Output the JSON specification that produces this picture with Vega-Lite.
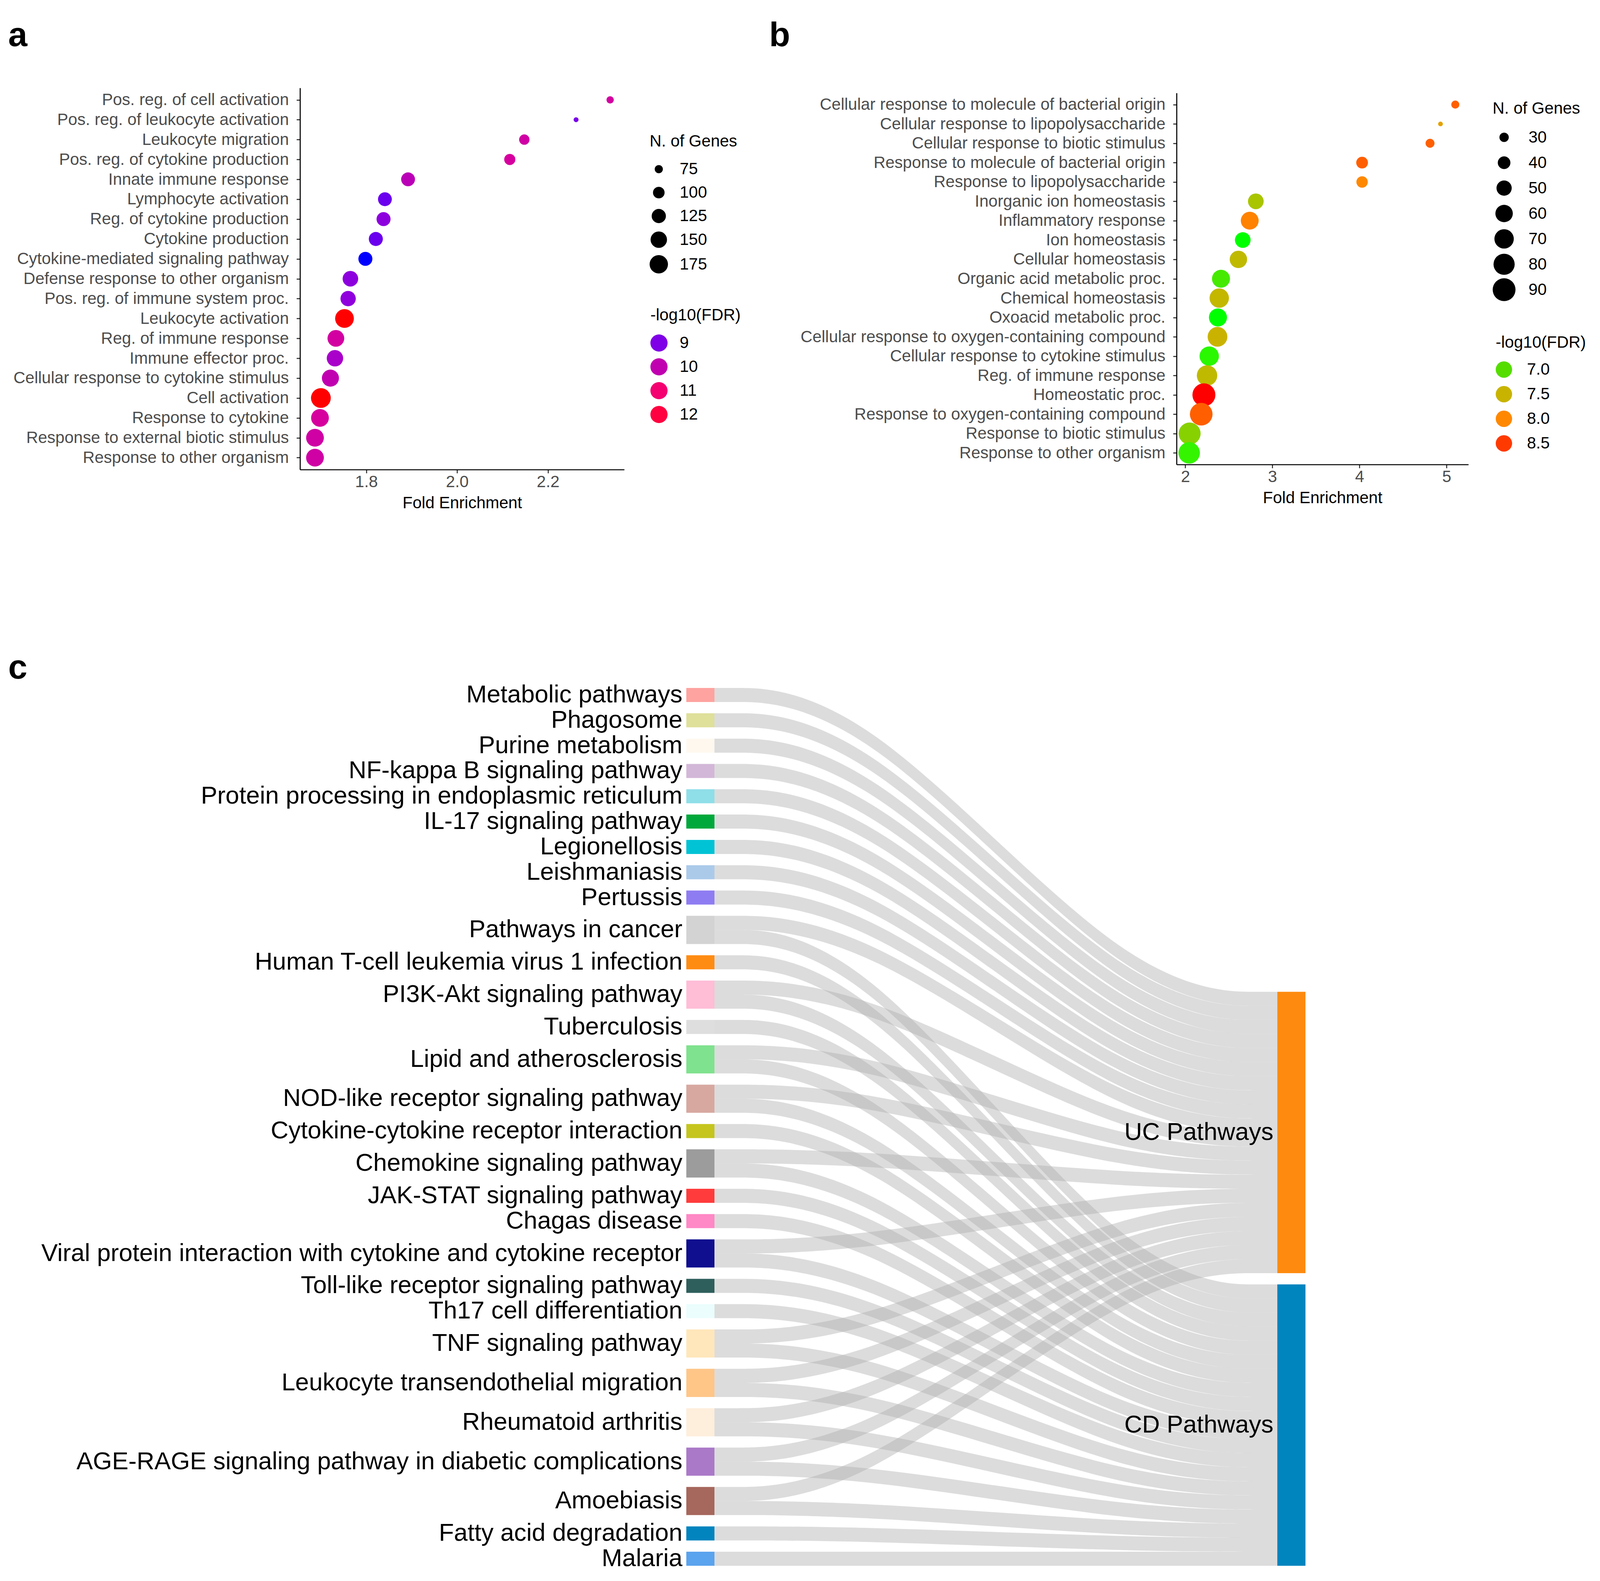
{
"$schema":"https://vega.github.io/schema/vega-lite/v6.json",
"autosize":{"type":"none"},
"padding":{"left":768,"top":225,"right":3338,"bottom":3822},
"background":"white",
"config":{
 "font":"Liberation Sans",
 "view":{"stroke":null},
 "axis":{"grid":false,"domainColor":"#000000","domainWidth":2.7,"tickColor":"#333333","tickWidth":2.7,"tickSize":9,"labelFontSize":42,"labelColor":"#4d4d4d","labelFont":"Liberation Sans","titleFont":"Liberation Sans","titleFontSize":42,"titleFontWeight":"normal","titleColor":"#000000","labelLimit":3000},
 "axisY":{"labelPadding":20},
 "axisX":{"labelPadding":2,"titlePadding":13},
 "legend":{"titleFont":"Liberation Sans","labelFont":"Liberation Sans","titleFontSize":42,"titleFontWeight":"normal","titleColor":"#000000","titleLimit":2000,"labelLimit":2000,"labelFontSize":42,"labelColor":"#000000","padding":0,"symbolOpacity":1,"symbolStrokeWidth":0},
 "title":{"font":"Liberation Sans","fontSize":88,"fontWeight":"bold","color":"#000000","anchor":"start","frame":"group","baseline":"alphabetic"}
},
"datasets":{
 "ga":[
  {"t":"Pos. reg. of cell activation","fe":2.337,"g":70,"f":10.25},
  {"t":"Pos. reg. of leukocyte activation","fe":2.262,"g":59,"f":8.93},
  {"t":"Leukocyte migration","fe":2.148,"g":90,"f":10.2},
  {"t":"Pos. reg. of cytokine production","fe":2.116,"g":96,"f":10.3},
  {"t":"Innate immune response","fe":1.892,"g":121,"f":9.85},
  {"t":"Lymphocyte activation","fe":1.841,"g":121,"f":8.8},
  {"t":"Reg. of cytokine production","fe":1.838,"g":123,"f":9.14},
  {"t":"Cytokine production","fe":1.821,"g":123,"f":8.8},
  {"t":"Cytokine-mediated signaling pathway","fe":1.798,"g":123,"f":8.4},
  {"t":"Defense response to other organism","fe":1.765,"g":140,"f":9.14},
  {"t":"Pos. reg. of immune system proc.","fe":1.760,"g":137,"f":9.16},
  {"t":"Leukocyte activation","fe":1.752,"g":180,"f":12.5},
  {"t":"Reg. of immune response","fe":1.733,"g":154,"f":10.25},
  {"t":"Immune effector proc.","fe":1.731,"g":150,"f":9.5},
  {"t":"Cellular response to cytokine stimulus","fe":1.721,"g":158,"f":10.0},
  {"t":"Cell activation","fe":1.700,"g":195,"f":12.5},
  {"t":"Response to cytokine","fe":1.698,"g":167,"f":10.3},
  {"t":"Response to external biotic stimulus","fe":1.687,"g":167,"f":10.2},
  {"t":"Response to other organism","fe":1.687,"g":167,"f":10.2}
 ],
 "gb":[
  {"t":"Cellular response to molecule of bacterial origin","fe":5.10,"g":27,"f":8.3},
  {"t":"Cellular response to lipopolysaccharide","fe":4.93,"g":21,"f":7.75},
  {"t":"Cellular response to biotic stimulus","fe":4.81,"g":29,"f":8.3},
  {"t":"Response to molecule of bacterial origin","fe":4.03,"g":37,"f":8.3},
  {"t":"Response to lipopolysaccharide","fe":4.03,"g":36,"f":8.0},
  {"t":"Inorganic ion homeostasis","fe":2.81,"g":52,"f":7.3},
  {"t":"Inflammatory response","fe":2.74,"g":62,"f":8.05},
  {"t":"Ion homeostasis","fe":2.66,"g":52,"f":6.7},
  {"t":"Cellular homeostasis","fe":2.61,"g":60,"f":7.43},
  {"t":"Organic acid metabolic proc.","fe":2.41,"g":63,"f":6.88},
  {"t":"Chemical homeostasis","fe":2.39,"g":70,"f":7.47},
  {"t":"Oxoacid metabolic proc.","fe":2.375,"g":63,"f":6.7},
  {"t":"Cellular response to oxygen-containing compound","fe":2.37,"g":72,"f":7.52},
  {"t":"Cellular response to cytokine stimulus","fe":2.275,"g":70,"f":6.76},
  {"t":"Reg. of immune response","fe":2.25,"g":76,"f":7.43},
  {"t":"Homeostatic proc.","fe":2.214,"g":91,"f":8.7},
  {"t":"Response to oxygen-containing compound","fe":2.183,"g":89,"f":8.3},
  {"t":"Response to biotic stimulus","fe":2.05,"g":85,"f":7.15},
  {"t":"Response to other organism","fe":2.045,"g":82,"f":6.8}
 ],
 "nodes":[
  {"n":"Metabolic pathways","x":-0.05,"x2":0,"y":0,"y2":1,"m":0.5},
  {"n":"Phagosome","x":-0.05,"x2":0,"y":1.8,"y2":2.8,"m":2.3},
  {"n":"Purine metabolism","x":-0.05,"x2":0,"y":3.6,"y2":4.6,"m":4.1},
  {"n":"NF-kappa B signaling pathway","x":-0.05,"x2":0,"y":5.4,"y2":6.4,"m":5.9},
  {"n":"Protein processing in endoplasmic reticulum","x":-0.05,"x2":0,"y":7.2,"y2":8.2,"m":7.7},
  {"n":"IL-17 signaling pathway","x":-0.05,"x2":0,"y":9,"y2":10,"m":9.5},
  {"n":"Legionellosis","x":-0.05,"x2":0,"y":10.8,"y2":11.8,"m":11.3},
  {"n":"Leishmaniasis","x":-0.05,"x2":0,"y":12.6,"y2":13.6,"m":13.1},
  {"n":"Pertussis","x":-0.05,"x2":0,"y":14.4,"y2":15.4,"m":14.9},
  {"n":"Pathways in cancer","x":-0.05,"x2":0,"y":16.2,"y2":18.2,"m":17.2},
  {"n":"Human T-cell leukemia virus 1 infection","x":-0.05,"x2":0,"y":19,"y2":20,"m":19.5},
  {"n":"PI3K-Akt signaling pathway","x":-0.05,"x2":0,"y":20.8,"y2":22.8,"m":21.8},
  {"n":"Tuberculosis","x":-0.05,"x2":0,"y":23.6,"y2":24.6,"m":24.1},
  {"n":"Lipid and atherosclerosis","x":-0.05,"x2":0,"y":25.4,"y2":27.4,"m":26.4},
  {"n":"NOD-like receptor signaling pathway","x":-0.05,"x2":0,"y":28.2,"y2":30.2,"m":29.2},
  {"n":"Cytokine-cytokine receptor interaction","x":-0.05,"x2":0,"y":31,"y2":32,"m":31.5},
  {"n":"Chemokine signaling pathway","x":-0.05,"x2":0,"y":32.8,"y2":34.8,"m":33.8},
  {"n":"JAK-STAT signaling pathway","x":-0.05,"x2":0,"y":35.6,"y2":36.6,"m":36.1},
  {"n":"Chagas disease","x":-0.05,"x2":0,"y":37.4,"y2":38.4,"m":37.9},
  {"n":"Viral protein interaction with cytokine and cytokine receptor","x":-0.05,"x2":0,"y":39.2,"y2":41.2,"m":40.2},
  {"n":"Toll-like receptor signaling pathway","x":-0.05,"x2":0,"y":42,"y2":43,"m":42.5},
  {"n":"Th17 cell differentiation","x":-0.05,"x2":0,"y":43.8,"y2":44.8,"m":44.3},
  {"n":"TNF signaling pathway","x":-0.05,"x2":0,"y":45.6,"y2":47.6,"m":46.6},
  {"n":"Leukocyte transendothelial migration","x":-0.05,"x2":0,"y":48.4,"y2":50.4,"m":49.4},
  {"n":"Rheumatoid arthritis","x":-0.05,"x2":0,"y":51.2,"y2":53.2,"m":52.2},
  {"n":"AGE-RAGE signaling pathway in diabetic complications","x":-0.05,"x2":0,"y":54,"y2":56,"m":55},
  {"n":"Amoebiasis","x":-0.05,"x2":0,"y":56.8,"y2":58.8,"m":57.8},
  {"n":"Fatty acid degradation","x":-0.05,"x2":0,"y":59.6,"y2":60.6,"m":60.1},
  {"n":"Malaria","x":-0.05,"x2":0,"y":61.4,"y2":62.4,"m":61.9},
  {"n":"UC Pathways","x":1,"x2":1.05,"y":21.6,"y2":41.6,"m":31.6},
  {"n":"CD Pathways","x":1,"x2":1.05,"y":42.4,"y2":62.4,"m":52.4}
 ],
 "links":[
  {"k":"Metabolic>UC","x":0,"y":0,"y2":1},{"k":"Metabolic>UC","x":0.25,"y":0,"y2":1},{"k":"Metabolic>UC","x":0.75,"y":21.6,"y2":22.6},{"k":"Metabolic>UC","x":1,"y":21.6,"y2":22.6},
  {"k":"Phagosome>UC","x":0,"y":1.8,"y2":2.8},{"k":"Phagosome>UC","x":0.25,"y":1.8,"y2":2.8},{"k":"Phagosome>UC","x":0.75,"y":22.6,"y2":23.6},{"k":"Phagosome>UC","x":1,"y":22.6,"y2":23.6},
  {"k":"Purine>UC","x":0,"y":3.6,"y2":4.6},{"k":"Purine>UC","x":0.25,"y":3.6,"y2":4.6},{"k":"Purine>UC","x":0.75,"y":23.6,"y2":24.6},{"k":"Purine>UC","x":1,"y":23.6,"y2":24.6},
  {"k":"NFkB>UC","x":0,"y":5.4,"y2":6.4},{"k":"NFkB>UC","x":0.25,"y":5.4,"y2":6.4},{"k":"NFkB>UC","x":0.75,"y":24.6,"y2":25.6},{"k":"NFkB>UC","x":1,"y":24.6,"y2":25.6},
  {"k":"Protein>UC","x":0,"y":7.2,"y2":8.2},{"k":"Protein>UC","x":0.25,"y":7.2,"y2":8.2},{"k":"Protein>UC","x":0.75,"y":25.6,"y2":26.6},{"k":"Protein>UC","x":1,"y":25.6,"y2":26.6},
  {"k":"IL17>UC","x":0,"y":9,"y2":10},{"k":"IL17>UC","x":0.25,"y":9,"y2":10},{"k":"IL17>UC","x":0.75,"y":26.6,"y2":27.6},{"k":"IL17>UC","x":1,"y":26.6,"y2":27.6},
  {"k":"Legionellosis>UC","x":0,"y":10.8,"y2":11.8},{"k":"Legionellosis>UC","x":0.25,"y":10.8,"y2":11.8},{"k":"Legionellosis>UC","x":0.75,"y":27.6,"y2":28.6},{"k":"Legionellosis>UC","x":1,"y":27.6,"y2":28.6},
  {"k":"Leishmaniasis>UC","x":0,"y":12.6,"y2":13.6},{"k":"Leishmaniasis>UC","x":0.25,"y":12.6,"y2":13.6},{"k":"Leishmaniasis>UC","x":0.75,"y":28.6,"y2":29.6},{"k":"Leishmaniasis>UC","x":1,"y":28.6,"y2":29.6},
  {"k":"Pertussis>UC","x":0,"y":14.4,"y2":15.4},{"k":"Pertussis>UC","x":0.25,"y":14.4,"y2":15.4},{"k":"Pertussis>UC","x":0.75,"y":29.6,"y2":30.6},{"k":"Pertussis>UC","x":1,"y":29.6,"y2":30.6},
  {"k":"Cancer>UC","x":0,"y":16.2,"y2":17.2},{"k":"Cancer>UC","x":0.25,"y":16.2,"y2":17.2},{"k":"Cancer>UC","x":0.75,"y":30.6,"y2":31.6},{"k":"Cancer>UC","x":1,"y":30.6,"y2":31.6},
  {"k":"PI3K>UC","x":0,"y":20.8,"y2":21.8},{"k":"PI3K>UC","x":0.25,"y":20.8,"y2":21.8},{"k":"PI3K>UC","x":0.75,"y":31.6,"y2":32.6},{"k":"PI3K>UC","x":1,"y":31.6,"y2":32.6},
  {"k":"Lipid>UC","x":0,"y":25.4,"y2":26.4},{"k":"Lipid>UC","x":0.25,"y":25.4,"y2":26.4},{"k":"Lipid>UC","x":0.75,"y":32.6,"y2":33.6},{"k":"Lipid>UC","x":1,"y":32.6,"y2":33.6},
  {"k":"NOD>UC","x":0,"y":28.2,"y2":29.2},{"k":"NOD>UC","x":0.25,"y":28.2,"y2":29.2},{"k":"NOD>UC","x":0.75,"y":33.6,"y2":34.6},{"k":"NOD>UC","x":1,"y":33.6,"y2":34.6},
  {"k":"Chemokine>UC","x":0,"y":32.8,"y2":33.8},{"k":"Chemokine>UC","x":0.25,"y":32.8,"y2":33.8},{"k":"Chemokine>UC","x":0.75,"y":34.6,"y2":35.6},{"k":"Chemokine>UC","x":1,"y":34.6,"y2":35.6},
  {"k":"Viral>UC","x":0,"y":39.2,"y2":40.2},{"k":"Viral>UC","x":0.25,"y":39.2,"y2":40.2},{"k":"Viral>UC","x":0.75,"y":35.6,"y2":36.6},{"k":"Viral>UC","x":1,"y":35.6,"y2":36.6},
  {"k":"TNF>UC","x":0,"y":45.6,"y2":46.6},{"k":"TNF>UC","x":0.25,"y":45.6,"y2":46.6},{"k":"TNF>UC","x":0.75,"y":36.6,"y2":37.6},{"k":"TNF>UC","x":1,"y":36.6,"y2":37.6},
  {"k":"LeukTEM>UC","x":0,"y":48.4,"y2":49.4},{"k":"LeukTEM>UC","x":0.25,"y":48.4,"y2":49.4},{"k":"LeukTEM>UC","x":0.75,"y":37.6,"y2":38.6},{"k":"LeukTEM>UC","x":1,"y":37.6,"y2":38.6},
  {"k":"Rheumatoid>UC","x":0,"y":51.2,"y2":52.2},{"k":"Rheumatoid>UC","x":0.25,"y":51.2,"y2":52.2},{"k":"Rheumatoid>UC","x":0.75,"y":38.6,"y2":39.6},{"k":"Rheumatoid>UC","x":1,"y":38.6,"y2":39.6},
  {"k":"AGE>UC","x":0,"y":54,"y2":55},{"k":"AGE>UC","x":0.25,"y":54,"y2":55},{"k":"AGE>UC","x":0.75,"y":39.6,"y2":40.6},{"k":"AGE>UC","x":1,"y":39.6,"y2":40.6},
  {"k":"Amoebiasis>UC","x":0,"y":56.8,"y2":57.8},{"k":"Amoebiasis>UC","x":0.25,"y":56.8,"y2":57.8},{"k":"Amoebiasis>UC","x":0.75,"y":40.6,"y2":41.6},{"k":"Amoebiasis>UC","x":1,"y":40.6,"y2":41.6},
  {"k":"Cancer>CD","x":0,"y":17.2,"y2":18.2},{"k":"Cancer>CD","x":0.25,"y":17.2,"y2":18.2},{"k":"Cancer>CD","x":0.75,"y":42.4,"y2":43.4},{"k":"Cancer>CD","x":1,"y":42.4,"y2":43.4},
  {"k":"HTLV>CD","x":0,"y":19,"y2":20},{"k":"HTLV>CD","x":0.25,"y":19,"y2":20},{"k":"HTLV>CD","x":0.75,"y":43.4,"y2":44.4},{"k":"HTLV>CD","x":1,"y":43.4,"y2":44.4},
  {"k":"PI3K>CD","x":0,"y":21.8,"y2":22.8},{"k":"PI3K>CD","x":0.25,"y":21.8,"y2":22.8},{"k":"PI3K>CD","x":0.75,"y":44.4,"y2":45.4},{"k":"PI3K>CD","x":1,"y":44.4,"y2":45.4},
  {"k":"Tuberculosis>CD","x":0,"y":23.6,"y2":24.6},{"k":"Tuberculosis>CD","x":0.25,"y":23.6,"y2":24.6},{"k":"Tuberculosis>CD","x":0.75,"y":45.4,"y2":46.4},{"k":"Tuberculosis>CD","x":1,"y":45.4,"y2":46.4},
  {"k":"Lipid>CD","x":0,"y":26.4,"y2":27.4},{"k":"Lipid>CD","x":0.25,"y":26.4,"y2":27.4},{"k":"Lipid>CD","x":0.75,"y":46.4,"y2":47.4},{"k":"Lipid>CD","x":1,"y":46.4,"y2":47.4},
  {"k":"NOD>CD","x":0,"y":29.2,"y2":30.2},{"k":"NOD>CD","x":0.25,"y":29.2,"y2":30.2},{"k":"NOD>CD","x":0.75,"y":47.4,"y2":48.4},{"k":"NOD>CD","x":1,"y":47.4,"y2":48.4},
  {"k":"CytCyt>CD","x":0,"y":31,"y2":32},{"k":"CytCyt>CD","x":0.25,"y":31,"y2":32},{"k":"CytCyt>CD","x":0.75,"y":48.4,"y2":49.4},{"k":"CytCyt>CD","x":1,"y":48.4,"y2":49.4},
  {"k":"Chemokine>CD","x":0,"y":33.8,"y2":34.8},{"k":"Chemokine>CD","x":0.25,"y":33.8,"y2":34.8},{"k":"Chemokine>CD","x":0.75,"y":49.4,"y2":50.4},{"k":"Chemokine>CD","x":1,"y":49.4,"y2":50.4},
  {"k":"JAK>CD","x":0,"y":35.6,"y2":36.6},{"k":"JAK>CD","x":0.25,"y":35.6,"y2":36.6},{"k":"JAK>CD","x":0.75,"y":50.4,"y2":51.4},{"k":"JAK>CD","x":1,"y":50.4,"y2":51.4},
  {"k":"Chagas>CD","x":0,"y":37.4,"y2":38.4},{"k":"Chagas>CD","x":0.25,"y":37.4,"y2":38.4},{"k":"Chagas>CD","x":0.75,"y":51.4,"y2":52.4},{"k":"Chagas>CD","x":1,"y":51.4,"y2":52.4},
  {"k":"Viral>CD","x":0,"y":40.2,"y2":41.2},{"k":"Viral>CD","x":0.25,"y":40.2,"y2":41.2},{"k":"Viral>CD","x":0.75,"y":52.4,"y2":53.4},{"k":"Viral>CD","x":1,"y":52.4,"y2":53.4},
  {"k":"Toll>CD","x":0,"y":42,"y2":43},{"k":"Toll>CD","x":0.25,"y":42,"y2":43},{"k":"Toll>CD","x":0.75,"y":53.4,"y2":54.4},{"k":"Toll>CD","x":1,"y":53.4,"y2":54.4},
  {"k":"Th17>CD","x":0,"y":43.8,"y2":44.8},{"k":"Th17>CD","x":0.25,"y":43.8,"y2":44.8},{"k":"Th17>CD","x":0.75,"y":54.4,"y2":55.4},{"k":"Th17>CD","x":1,"y":54.4,"y2":55.4},
  {"k":"TNF>CD","x":0,"y":46.6,"y2":47.6},{"k":"TNF>CD","x":0.25,"y":46.6,"y2":47.6},{"k":"TNF>CD","x":0.75,"y":55.4,"y2":56.4},{"k":"TNF>CD","x":1,"y":55.4,"y2":56.4},
  {"k":"LeukTEM>CD","x":0,"y":49.4,"y2":50.4},{"k":"LeukTEM>CD","x":0.25,"y":49.4,"y2":50.4},{"k":"LeukTEM>CD","x":0.75,"y":56.4,"y2":57.4},{"k":"LeukTEM>CD","x":1,"y":56.4,"y2":57.4},
  {"k":"Rheumatoid>CD","x":0,"y":52.2,"y2":53.2},{"k":"Rheumatoid>CD","x":0.25,"y":52.2,"y2":53.2},{"k":"Rheumatoid>CD","x":0.75,"y":57.4,"y2":58.4},{"k":"Rheumatoid>CD","x":1,"y":57.4,"y2":58.4},
  {"k":"AGE>CD","x":0,"y":55,"y2":56},{"k":"AGE>CD","x":0.25,"y":55,"y2":56},{"k":"AGE>CD","x":0.75,"y":58.4,"y2":59.4},{"k":"AGE>CD","x":1,"y":58.4,"y2":59.4},
  {"k":"Amoebiasis>CD","x":0,"y":57.8,"y2":58.8},{"k":"Amoebiasis>CD","x":0.25,"y":57.8,"y2":58.8},{"k":"Amoebiasis>CD","x":0.75,"y":59.4,"y2":60.4},{"k":"Amoebiasis>CD","x":1,"y":59.4,"y2":60.4},
  {"k":"Fatty>CD","x":0,"y":59.6,"y2":60.6},{"k":"Fatty>CD","x":0.25,"y":59.6,"y2":60.6},{"k":"Fatty>CD","x":0.75,"y":60.4,"y2":61.4},{"k":"Fatty>CD","x":1,"y":60.4,"y2":61.4},
  {"k":"Malaria>CD","x":0,"y":61.4,"y2":62.4},{"k":"Malaria>CD","x":0.25,"y":61.4,"y2":62.4},{"k":"Malaria>CD","x":0.75,"y":61.4,"y2":62.4},{"k":"Malaria>CD","x":1,"y":61.4,"y2":62.4}
 ]
},
"columns":2,
"spacing":{"row":559,"column":1414},
"bounds":"flush",
"center":true,
"resolve":{"scale":{"color":"independent","size":"independent","x":"independent","y":"independent"},"legend":{"color":"independent","size":"independent"}},
"concat":[
  {"width":830,"height":977,
   "title":{"text":"a","dx":-747,"offset":89},
   "data":{"name":"ga"},
   "mark":{"type":"circle","opacity":1},
   "encoding":{
    "y":{"field":"t","type":"nominal","sort":null,"scale":{"type":"point","padding":0.6},"axis":{"title":null}},
    "x":{"field":"fe","type":"quantitative","scale":{"domain":[1.654,2.368],"nice":false,"zero":false},"axis":{"title":"Fold Enrichment","values":[1.8,2.0,2.2],"format":".1f"}},
    "size":{"field":"g","type":"quantitative","scale":{"domain":[75,175],"range":[441,2209],"zero":false},"legend":{"title":"N. of Genes","values":[75,100,125,150,175],"orient":"none","legendX":895,"legendY":117,"symbolFillColor":"#000000","symbolType":"circle","titlePadding":28,"rowPadding":18,"labelOffset":30}},
    "color":{"field":"f","type":"quantitative","scale":{"domain":[8.4,9,10,11,12,12.5],"range":["#0000ff","#7f00e6","#c000b0","#f40070","#ff0040","#ff0000"]},"legend":{"type":"symbol","title":"-log10(FDR)","values":[9,10,11,12],"format":"d","orient":"none","legendX":897,"legendY":562,"symbolType":"circle","symbolSize":1936,"titlePadding":27,"rowPadding":17,"labelOffset":31}}
   }
  },
  {"width":747,"height":951,
   "title":{"text":"b","dx":-1043,"offset":102},
   "data":{"name":"gb"},
   "mark":{"type":"circle","opacity":1},
   "encoding":{
    "y":{"field":"t","type":"nominal","sort":null,"scale":{"type":"point","padding":0.6},"axis":{"title":null}},
    "x":{"field":"fe","type":"quantitative","scale":{"domain":[1.9,5.25],"nice":false,"zero":false},"axis":{"title":"Fold Enrichment","values":[2,3,4,5],"format":"d"}},
    "size":{"field":"g","type":"quantitative","scale":{"domain":[30,90],"range":[571,3411],"zero":false},"legend":{"title":"N. of Genes","values":[30,40,50,60,70,80,90],"orient":"none","legendX":809,"legendY":20,"symbolFillColor":"#000000","symbolType":"circle","titlePadding":22,"rowPadding":6,"clipHeight":59,"labelOffset":33}},
    "color":{"field":"f","type":"quantitative","scale":{"domain":[6.7,7,7.5,8,8.5,8.7],"range":["#00ff00","#55dd00","#c8b400","#ff8800","#ff3a00","#ff0000"]},"legend":{"type":"symbol","title":"-log10(FDR)","values":[7,7.5,8,8.5],"format":".1f","orient":"none","legendX":817,"legendY":619,"symbolType":"circle","symbolSize":1764,"titlePadding":26,"rowPadding":21,"labelOffset":38}}
   }
  },
  {"width":830,"height":2247,
   "title":{"text":"c","dx":-747,"offset":-7},
   "layer":[
    {"data":{"name":"links"},
     "mark":{"type":"area","orient":"vertical","interpolate":"basis","color":"#aeaeae","opacity":0.43},
     "encoding":{
      "x":{"field":"x","type":"quantitative","scale":{"domain":[-0.7363,-0.1603],"nice":false,"zero":false},"axis":null},
      "y":{"field":"y","type":"quantitative","scale":{"domain":[0,62.4],"reverse":true,"nice":false,"zero":false},"axis":null},
      "y2":{"field":"y2"},
      "detail":{"field":"k"}
     }
    },
    {"data":{"name":"nodes"},
     "mark":{"type":"rect"},
     "encoding":{
      "x":{"field":"x","type":"quantitative"},
      "x2":{"field":"x2"},
      "y":{"field":"y","type":"quantitative"},
      "y2":{"field":"y2"},
      "color":{"field":"n","type":"nominal","legend":null,"scale":{
       "domain":["Metabolic pathways","Phagosome","Purine metabolism","NF-kappa B signaling pathway","Protein processing in endoplasmic reticulum","IL-17 signaling pathway","Legionellosis","Leishmaniasis","Pertussis","Pathways in cancer","Human T-cell leukemia virus 1 infection","PI3K-Akt signaling pathway","Tuberculosis","Lipid and atherosclerosis","NOD-like receptor signaling pathway","Cytokine-cytokine receptor interaction","Chemokine signaling pathway","JAK-STAT signaling pathway","Chagas disease","Viral protein interaction with cytokine and cytokine receptor","Toll-like receptor signaling pathway","Th17 cell differentiation","TNF signaling pathway","Leukocyte transendothelial migration","Rheumatoid arthritis","AGE-RAGE signaling pathway in diabetic complications","Amoebiasis","Fatty acid degradation","Malaria","UC Pathways","CD Pathways"],
       "range":["#fea3a0","#dfe09a","#fef8ef","#d3b7d8","#8fdfe8","#00a83c","#00c3d5","#abcaea","#8e7cf2","#d3d3d3","#ff8c12","#ffbdd6","#dedede","#7fe28e","#d7a8a0","#c5c51e","#9c9c9c","#ff3b3b","#ff88c6","#100f8f","#2f5f5c","#ebfdfd","#ffe7bb","#ffc688","#feeedc","#aa79c8","#a6675c","#0284bf","#5aa3ee","#fe8b10","#0085be"]}}
     }
    },
    {"data":{"name":"nodes"},
     "mark":{"type":"text","align":"right","baseline":"middle","dx":-10,"fontSize":63,"color":"#000000","font":"Liberation Sans"},
     "encoding":{
      "x":{"field":"x","type":"quantitative"},
      "y":{"field":"m","type":"quantitative"},
      "text":{"field":"n"}
     }
    }
   ]
  }
]
}
